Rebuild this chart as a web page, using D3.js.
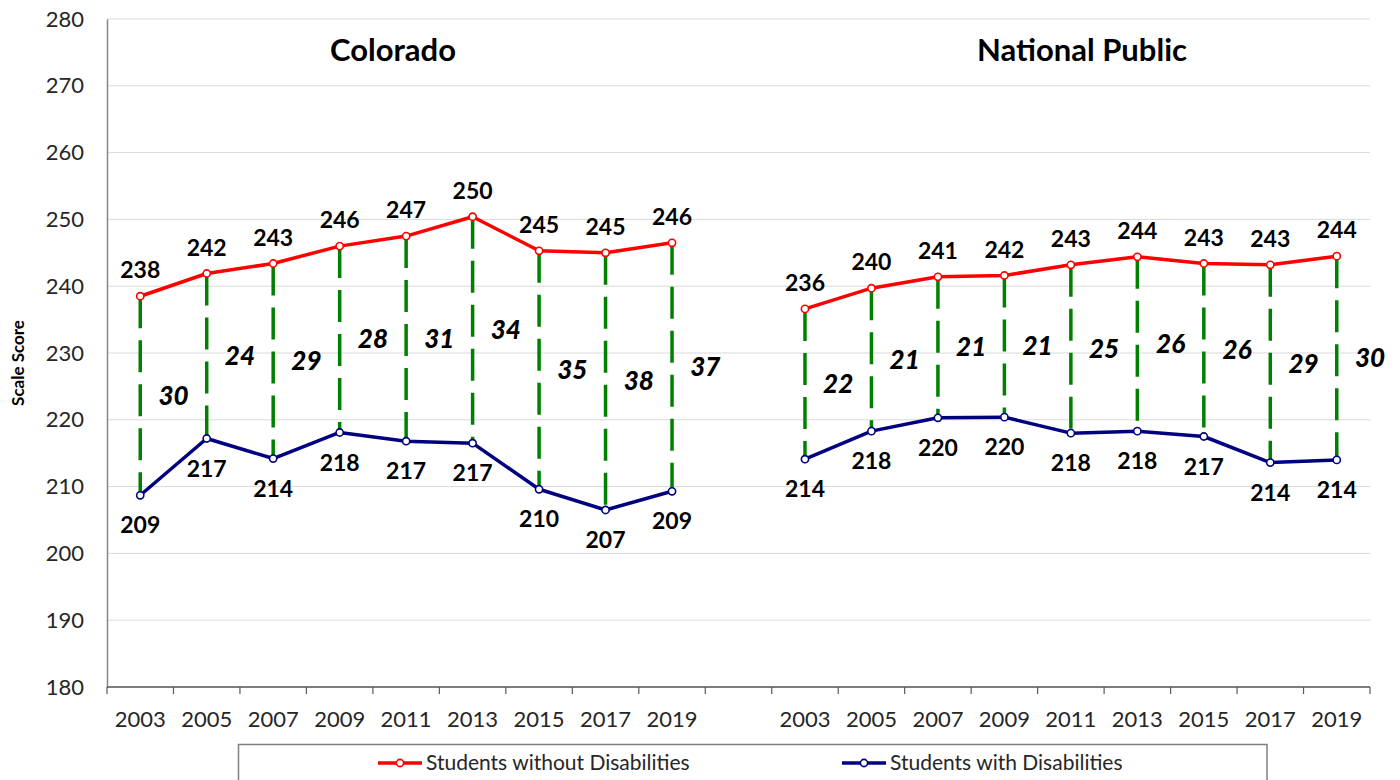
<!DOCTYPE html>
<html lang="en">
<head>
    <meta charset="UTF-8">
    <title>Scale Score: Students with and without Disabilities</title>
    <script src="https://d3js.org/d3.v7.min.js"></script>
    <style>
        body {
            margin: 0;
            background: #fff;
        }

        svg {
            display: block;
            font-family: Lato, "Open Sans", sans-serif;
        }
    </style>
</head>
<body>
    <div id="chart"></div>

    <script>
        // data
        const years = ["2003", "2005", "2007", "2009", "2011", "2013", "2015", "2017", "2019"];
        const panels = ["Colorado", "National Public"];
        const seriesNames = ["Students without Disabilities", "Students with Disabilities"];

        const coWithout = [238.5, 241.9, 243.4, 246.0, 247.5, 250.4, 245.3, 245.0, 246.5];
        const coWith = [208.7, 217.2, 214.2, 218.1, 216.8, 216.5, 209.6, 206.5, 209.3];
        const natWithout = [236.6, 239.7, 241.4, 241.6, 243.2, 244.4, 243.4, 243.2, 244.5];
        const natWith = [214.1, 218.3, 220.3, 220.4, 218.0, 218.3, 217.5, 213.6, 214.0];

        const coWithoutLabels = ["238", "242", "243", "246", "247", "250", "245", "245", "246"];
        const coWithLabels = ["209", "217", "214", "218", "217", "217", "210", "207", "209"];
        const natWithoutLabels = ["236", "240", "241", "242", "243", "244", "243", "243", "244"];
        const natWithLabels = ["214", "218", "220", "220", "218", "218", "217", "214", "214"];

        const coGap = ["30", "24", "29", "28", "31", "34", "35", "38", "37"];
        const natGap = ["22", "21", "21", "21", "25", "26", "26", "29", "30"];

        const yTicks = [180, 190, 200, 210, 220, 230, 240, 250, 260, 270, 280];

        const width = 1400;
        const height = 780;
        const margin = { top: 19, right: 30, bottom: 93, left: 107 };

        const red = "#ff0000";
        const navy = "#000080";
        const green = "#008000";

        // one band per year per panel, with an empty band between the two panels
        const keys = years.map(y => "co" + y).concat(["gap"], years.map(y => "nat" + y));

        const x = d3.scaleBand()
            .domain(keys)
            .range([margin.left, width - margin.right])
            .padding(0);

        const y = d3.scaleLinear()
            .domain([180, 280])
            .range([height - margin.bottom, margin.top]);

        const svg = d3.select("#chart").append("svg")
            .attr("width", width)
            .attr("height", height);

        // gridlines
        svg.append("g")
            .selectAll("line")
            .data(yTicks)
            .enter().append("line")
            .attr("x1", margin.left)
            .attr("x2", width - margin.right)
            .attr("y1", d => y(d))
            .attr("y2", d => y(d))
            .attr("stroke", "#d9d9d9")
            .attr("stroke-width", 1);

        // y axis
        const yAxis = svg.append("g")
            .attr("transform", `translate(${margin.left},0)`)
            .call(d3.axisLeft(y).tickValues(yTicks).tickSize(0).tickPadding(23));
        yAxis.select(".domain").attr("stroke", "#868686").attr("stroke-width", 1.5);
        yAxis.selectAll("text")
            .style("font-size", "22px")
            .attr("fill", "#262626")
            .attr("font-family", "Lato, sans-serif");

        svg.append("text")
            .attr("transform", `translate(18,${(margin.top + height - margin.bottom) / 2 + 10}) rotate(-90)`)
            .attr("text-anchor", "middle")
            .attr("dy", "0.35em")
            .style("font-size", "17px")
            .style("font-weight", "bold")
            .text("Scale Score");

        // x axis with ticks between categories
        const xAxis = svg.append("g");
        xAxis.append("line")
            .attr("x1", margin.left)
            .attr("x2", width - margin.right)
            .attr("y1", y(180))
            .attr("y2", y(180))
            .attr("stroke", "#595959")
            .attr("stroke-width", 1.5);
        xAxis.selectAll(".tick")
            .data(d3.range(keys.length + 1))
            .enter().append("line")
            .attr("x1", i => margin.left + i * x.step())
            .attr("x2", i => margin.left + i * x.step())
            .attr("y1", y(180))
            .attr("y2", y(180) + 7)
            .attr("stroke", "#595959")
            .attr("stroke-width", 1.2);
        xAxis.selectAll("text")
            .data(keys.filter(k => k !== "gap"))
            .enter().append("text")
            .attr("x", k => x(k) + x.bandwidth() / 2)
            .attr("y", y(180) + 32)
            .attr("text-anchor", "middle")
            .attr("dy", "0.35em")
            .attr("fill", "#262626")
            .style("font-size", "22px")
            .text(k => k.slice(-4));

        const panelData = [
            { prefix: "co", without: coWithout, with: coWith, wl: coWithoutLabels, dl: coWithLabels, gap: coGap, title: panels[0], tx: 393 },
            { prefix: "nat", without: natWithout, with: natWith, wl: natWithoutLabels, dl: natWithLabels, gap: natGap, title: panels[1], tx: 1082 }
        ];

        const cx = (p, i) => x(p.prefix + years[i]) + x.bandwidth() / 2;

        panelData.forEach(p => {
            const g = svg.append("g");
            const idx = d3.range(years.length);

            g.append("text")
                .attr("x", p.tx)
                .attr("y", 50)
                .attr("text-anchor", "middle")
                .attr("dy", "0.35em")
                .style("font-size", "31px")
                .style("font-weight", "bold")
                .text(p.title);

            // dashed gap lines
            g.selectAll(".gapline")
                .data(idx)
                .enter().append("line")
                .attr("x1", i => cx(p, i))
                .attr("x2", i => cx(p, i))
                .attr("y1", i => y(p.without[i]))
                .attr("y2", i => y(p.with[i]))
                .attr("stroke", green)
                .attr("stroke-width", 3.5)
                .attr("stroke-dasharray", "32,12");

            // gap labels at the midpoint, between categories
            g.selectAll(".gaplabel")
                .data(idx)
                .enter().append("text")
                .attr("x", i => cx(p, i) + x.step() / 2)
                .attr("y", i => y((p.without[i] + p.with[i]) / 2))
                .attr("dy", "0.35em")
                .attr("text-anchor", "middle")
                .style("font-size", "26px")
                .style("font-weight", "900")
                .style("font-style", "italic")
                .text(i => p.gap[i]);

            const line = d3.line()
                .x(d => cx(p, d.i))
                .y(d => y(d.v));

            [[p.without, red, p.wl, -26], [p.with, navy, p.dl, 30]].forEach(([vals, color, labels, off]) => {
                const pts = vals.map((v, i) => ({ v, i }));
                g.append("path")
                    .datum(pts)
                    .attr("d", line)
                    .attr("fill", "none")
                    .attr("stroke", color)
                    .attr("stroke-width", 3.5)
                    .attr("stroke-linejoin", "round");
                g.selectAll(null)
                    .data(pts)
                    .enter().append("circle")
                    .attr("cx", d => cx(p, d.i))
                    .attr("cy", d => y(d.v))
                    .attr("r", 3.6)
                    .attr("fill", "#fff")
                    .attr("stroke", color)
                    .attr("stroke-width", 1.6);
                g.selectAll(null)
                    .data(pts)
                    .enter().append("text")
                    .attr("x", d => cx(p, d.i))
                    .attr("y", d => y(d.v) + off)
                    .attr("dy", "0.35em")
                    .attr("text-anchor", "middle")
                    .style("font-size", "23px")
                    .style("font-weight", "bold")
                    .text(d => labels[d.i]);
            });
        });

        // legend
        const legend = svg.append("g");
        legend.append("rect")
            .attr("x", 238.5)
            .attr("y", 744.5)
            .attr("width", 1028.5)
            .attr("height", 60)
            .attr("fill", "#fff")
            .attr("stroke", "#808080")
            .attr("stroke-width", 1.5);

        const legendItems = [
            { name: seriesNames[0], color: red, x: 378 },
            { name: seriesNames[1], color: navy, x: 842 }
        ];
        const li = legend.selectAll(".item")
            .data(legendItems)
            .enter().append("g")
            .attr("transform", d => `translate(${d.x},763)`);
        li.append("line")
            .attr("x1", 0)
            .attr("x2", 44)
            .attr("stroke", d => d.color)
            .attr("stroke-width", 3.5);
        li.append("circle")
            .attr("cx", 22)
            .attr("r", 3.6)
            .attr("fill", "#fff")
            .attr("stroke", d => d.color)
            .attr("stroke-width", 1.6);
        li.append("text")
            .attr("x", 48)
            .attr("dy", "0.35em")
            .attr("fill", "#262626")
            .style("font-size", "21px")
            .text(d => d.name);
    </script>
</body>
</html>
